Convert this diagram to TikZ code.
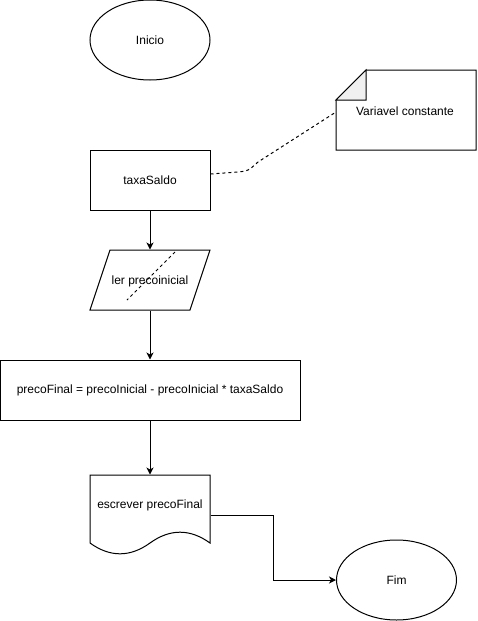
\documentclass[tikz,border=0pt]{standalone}
\usepackage{fontspec}
\setmainfont{Liberation Sans}
\usetikzlibrary{arrows.meta,shapes.geometric,calc}

\begin{document}
\begin{tikzpicture}[x=1pt,y=-1pt,line width=1pt,font=\fontsize{12}{14}\selectfont,
    term/.style={draw,ellipse,minimum width=120pt,minimum height=80pt,inner sep=0pt},
    box/.style={draw,rectangle,minimum width=120pt,minimum height=60pt,inner sep=0pt},
    flow/.style={-{Stealth[length=7pt,width=7pt,inset=2pt]}},
    tracejado/.style={dash pattern=on 3pt off 3pt}]
            \useasboundingbox (0,0) rectangle (477,621);
            \node[term] (Inicio) at (150,40) {Inicio};
            \node[box] (Taxa) at (150,180) {taxaSaldo};
            \node[inner sep=0pt,minimum width=120pt,minimum height=60pt] (Ler) at (150,280) {};
            \node[box,minimum width=300pt] (Calc) at (150,390) {precoFinal = precoInicial - precoInicial * taxaSaldo};
            \node[inner sep=0pt,minimum width=120pt,minimum height=80pt] (Doc) at (150,515) {};
            \node[term] (Fim) at (396.5,580) {Fim};
            \node[inner sep=0pt,minimum width=140pt,minimum height=80pt] (Nota) at (406,110) {};
            \coordinate (NotaPin) at (336,112);
            \coordinate (TaxaPin) at ([yshift=6pt]Taxa.east);
            \coordinate (RiscoA) at (175,252);
            \coordinate (RiscoB) at (127,300);
            \draw ($(Ler.center)+(-40,-30)$) -- ($(Ler.center)+(60,-30)$) -- ($(Ler.center)+(40,30)$) -- ($(Ler.center)+(-60,30)$) -- cycle;
            \node (LerText) at (150,281) {ler precoinicial};
            \draw (90,475) -- (210,475) -- (210,543) .. controls (190,528.6) and (170,528.6) .. (150,543) .. controls (130,557.4) and (110,557.4) .. (90,543) -- cycle;
            \node (DocText) at (150,505) {escrever precoFinal};
            \draw (366,70) -- (476,70) -- (476,150) -- (336,150) -- (336,100) -- cycle;
            \draw[fill=black!6] (336,100) -- (366,70) -- (366,100) -- cycle;
            \node (NotaText) at (405,111) {Variavel constante};
            \draw[tracejado] (TaxaPin) -- (238,172) .. controls (248,171) .. (258,162) -- (NotaPin);
            \draw[tracejado] (RiscoA) -- (RiscoB);
            \draw[flow] (Taxa.south) -- (Ler.north);
            \draw[flow] (Ler.south) -- (Calc.north);
            \draw[flow] (Calc.south) -- (Doc.north);
            \draw[flow] (Doc.east) -| ($(Doc.east)!0.5!(Fim.west)$) |- (Fim.west);
\end{tikzpicture}
\end{document}
